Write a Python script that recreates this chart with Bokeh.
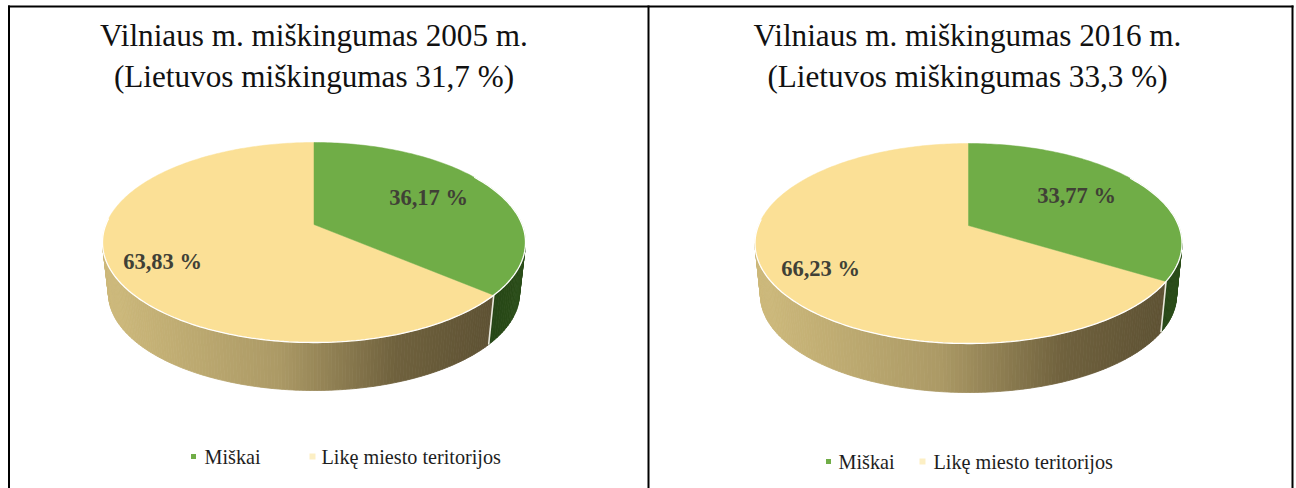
import numpy as np
from bokeh.plotting import figure
from bokeh.embed import file_html
from bokeh.resources import INLINE
from bokeh.core.properties import value

categories = ["Miškai", "Likę miesto teritorijos"]
years = ["2005", "2016"]
national = ["31,7", "33,3"]
values_2005 = [36.17, 63.83]
values_2016 = [33.77, 66.23]
labels_2005 = ["36,17 %", "63,83 %"]
labels_2016 = ["33,77 %", "66,23 %"]

GREEN, BEIGE = "#70AD47", "#FBE096"
SERIF = value("Liberation Serif")
K = -0.18

p = figure(width=1296, height=488, x_range=(0, 1296), y_range=(488, 0),
           output_backend="svg", toolbar_location=None, min_border=0,
           margin=(0, 0, 0, 0), background_fill_color="white",
           border_fill_color="white", outline_line_color=None)
p.axis.visible = False
p.grid.visible = False


def disc_map(theta):
    """Angle clockwise from 12 o'clock on the disc -> unit screen-ellipse point, with perspective."""
    x, y = np.sin(theta), -np.cos(theta)
    d = 1 + K * y
    return x * np.sqrt(1 - K * K) / d, (y + K) / d


def lerp(stops, t):
    xs = [s[0] for s in stops]
    r = np.interp(t, xs, [s[1][0] for s in stops])
    g = np.interp(t, xs, [s[1][1] for s in stops])
    b = np.interp(t, xs, [s[1][2] for s in stops])
    return "#%02x%02x%02x" % (int(r), int(g), int(b))


WALL_STOPS = [(0, (206, 186, 124)), (0.45, (172, 154, 102)), (0.75, (112, 98, 62)), (1, (94, 82, 52))]
DARK_STOPS = [(0, (38, 70, 22)), (1, (44, 78, 26))]


def pie(vals, texts, cx, cy, rx, ry, cx2, cy2, rx2, ry2, label_pos):
    split = vals[0] / sum(vals) * 2 * np.pi
    sx, sy = disc_map(split)
    phi_split = np.arctan2(sx, -sy)

    def top(phi):
        return cx + rx * np.sin(phi), cy - ry * np.cos(phi)

    def bot(phi):
        return cx2 + rx2 * np.sin(phi), cy2 - ry2 * np.cos(phi)

    def wall(a, b, stops, n, x0, x1):
        phis = np.linspace(a, b, n + 1)
        xs, ys, cols = [], [], []
        for i in range(n):
            tx, ty = top(phis[i:i + 2])
            bx, by = bot(phis[i:i + 2])
            xs.append(list(tx) + list(bx[::-1]))
            ys.append(list(ty) + list(by[::-1]))
            cols.append(lerp(stops, (np.mean(tx) - x0) / (x1 - x0)))
        p.patches(xs, ys, fill_color=cols, line_color=cols, line_width=0.8)

    wall(np.pi / 2, phi_split, DARK_STOPS, 20, cx + rx * np.sin(phi_split), cx + rx)
    wall(phi_split, 3 * np.pi / 2, WALL_STOPS, 150, cx - rx, cx + rx * np.sin(phi_split))
    tx, ty = top(phi_split)
    bx, by = bot(phi_split)
    p.line([tx, bx], [ty, by], line_color="#E8E8DC", line_width=1.6)

    ax, ay = cx, cy + ry * K
    t1 = np.linspace(0, split, 120)
    t2 = np.linspace(split, 2 * np.pi, 240)
    for t, col in ((t2, BEIGE), (t1, GREEN)):
        ux, uy = disc_map(t)
        px = np.concatenate([[ax], cx + rx * ux])
        py = np.concatenate([[ay], cy + ry * uy])
        p.patch(px, py, fill_color=col, line_color=col, line_width=0.5)
    ux, uy = disc_map(np.linspace(0.32 * np.pi, 1.52 * np.pi, 200))
    p.line(cx + rx * ux, cy + ry * uy, line_color="#FFFFFF", line_width=1.3)

    p.text([label_pos[0][0], label_pos[1][0]], [label_pos[0][1], label_pos[1][1]], text=texts,
           text_font=SERIF, text_font_style="bold", text_font_size="22.5px", text_color="#404036",
           text_align="center", text_baseline="middle")


pie(values_2005, labels_2005, 313.5, 242, 211.5, 100, 313.5, 293, 205.5, 97, [(428, 197), (162, 261)])
pie(values_2016, labels_2016, 968, 243, 213.5, 100, 968, 295, 208, 97, [(1076, 195), (820, 268)])

for yr, nat, cx in zip(years, national, (313.5, 967)):
    p.text([cx, cx], [35, 76],
           text=[f"Vilniaus m. miškingumas {yr} m.", f"(Lietuvos miškingumas {nat} %)"],
           text_font=SERIF, text_font_size="31.2px", text_color="#111111",
           text_align="center", text_baseline="middle")

for mx, tx, ly in (((193, 312), (204, 321), 456), ((828, 922), (838, 933), 461)):
    p.scatter([mx[0]], [ly], marker="square", size=5, fill_color=GREEN, line_color=None)
    p.scatter([mx[1]], [ly], marker="square", size=6, fill_color="#FCEFC4", line_color=None)
    p.text(list(tx), [ly, ly], text=categories, text_font=SERIF, text_font_size="20.2px",
           text_color="#1E1E1E", text_align="left", text_baseline="middle")

for xs, ys in (([8.5, 8.5], [5, 488]), ([648, 648], [5, 488]), ([1292, 1292], [5, 488]), ([7.5, 1293], [6, 6])):
    p.line(xs, ys, line_color="black", line_width=2)

open("out.html", "w").write(file_html(p, INLINE))
